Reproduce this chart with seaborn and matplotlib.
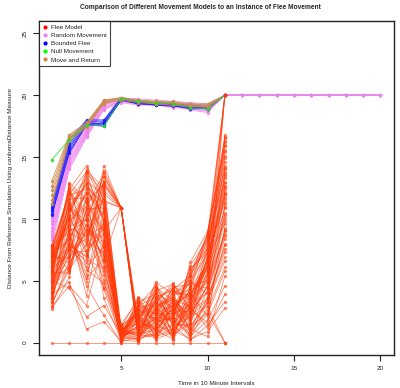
import matplotlib
matplotlib.use("Agg")
import matplotlib.pyplot as plt
from matplotlib.lines import Line2D
import numpy as np
import pandas as pd
import seaborn as sns

# ---------------------------------------------------------------------------
# Distances from the reference simulation, one row per simulation run
# ---------------------------------------------------------------------------
TIME_SHORT = [1, 2, 3, 4, 5, 6, 7, 8, 9, 10, 11]
TIME_LONG = [1, 2, 3, 4, 5, 6, 7, 8, 9, 10, 11, 12, 13, 14, 15, 16, 17, 18, 19, 20]

FLEE_MODEL = [
    [7.8, 9.5, 12.1, 10.4, 0.6, 1.2, 2.5, 1.8, 3.1, 5.2, 12.0],
    [6.5, 11.2, 8.3, 13.1, 10.9, 0.4, 1.8, 3.4, 2.2, 4.6, 9.8],
    [5.2, 7.4, 10.6, 6.2, 0.3, 2.8, 0.9, 1.5, 4.4, 7.9, 14.3],
    [4.1, 8.8, 5.5, 9.7, 1.1, 0.7, 3.6, 2.9, 1.3, 2.4, 0.0],
    [7.1, 12.4, 14.3, 11.5, 10.9, 0.9, 2.1, 0.6, 3.8, 6.1, 16.8],
    [3.3, 6.1, 9.2, 8.4, 0.2, 3.5, 1.4, 4.1, 0.8, 3.3, 6.6],
    [6.0, 10.3, 7.1, 12.6, 0.8, 1.9, 4.7, 2.3, 5.6, 8.7, 20.0],
    [2.7, 5.3, 11.8, 4.3, 0.4, 0.3, 0.8, 1.1, 2.7, 1.6, 11.2],
    [7.5, 8.1, 6.4, 14.3, 10.9, 1.5, 2.9, 3.7, 1.9, 5.8, 13.3],
    [5.6, 11.7, 13.2, 7.5, 1.4, 2.4, 0.5, 0.9, 6.5, 9.0, 15.4],
    [4.6, 9.1, 3.8, 10.8, 0.5, 1.0, 3.2, 4.8, 2.6, 4.1, 8.4],
    [6.9, 6.8, 8.9, 5.1, 0.1, 3.1, 1.6, 2.0, 0.4, 2.9, 0.0],
    [3.8, 10.9, 12.7, 9.1, 0.9, 0.6, 2.4, 3.0, 4.9, 7.2, 16.2],
    [7.9, 12.1, 10.1, 13.5, 10.9, 0.2, 4.1, 1.4, 3.3, 6.8, 12.0],
    [5.0, 4.4, 2.1, 3.0, 0.7, 2.1, 0.2, 2.6, 1.1, 0.5, 5.4],
    [6.3, 9.8, 11.4, 8.0, 1.2, 3.7, 2.7, 0.4, 3.6, 4.9, 10.5],
    [4.4, 7.9, 6.9, 11.9, 0.3, 1.4, 4.9, 3.9, 5.1, 8.1, 14.9],
    [7.3, 11.0, 9.8, 6.7, 10.9, 1.7, 1.1, 2.2, 0.6, 3.7, 7.3],
    [3.0, 6.6, 13.7, 12.2, 0.6, 0.8, 3.4, 4.4, 2.4, 6.4, 20.0],
    [5.9, 8.6, 4.6, 2.2, 0.0, 2.6, 1.9, 1.2, 4.0, 2.1, 9.3],
    [6.7, 10.5, 12.9, 10.1, 1.0, 0.5, 0.7, 3.2, 1.5, 5.5, 13.8],
    [4.9, 12.8, 7.8, 13.9, 10.9, 1.1, 2.6, 1.7, 5.9, 7.6, 15.9],
    [7.6, 5.8, 10.9, 7.1, 0.4, 3.3, 3.9, 0.7, 2.9, 1.2, 3.9],
    [3.5, 9.3, 8.6, 9.4, 0.8, 1.6, 1.3, 4.6, 3.7, 6.6, 11.6],
    [6.1, 7.0, 14.0, 11.1, 0.2, 0.1, 4.4, 2.7, 0.9, 4.3, 8.8],
    [5.4, 11.5, 5.9, 4.8, 1.3, 2.3, 2.0, 1.9, 6.2, 8.4, 16.5],
    [7.0, 8.4, 11.1, 12.9, 10.9, 0.7, 0.4, 3.6, 2.0, 3.0, 20.0],
    [4.3, 6.3, 9.5, 5.8, 0.5, 2.9, 3.0, 0.2, 4.6, 5.0, 10.1],
    [6.6, 10.1, 7.5, 8.8, 0.7, 1.3, 1.5, 3.3, 1.7, 7.0, 12.7],
    [3.9, 4.9, 1.1, 1.7, 0.1, 0.4, 0.6, 1.0, 0.3, 0.9, 2.8],
    [7.7, 11.9, 12.4, 10.0, 1.1, 3.0, 3.7, 4.2, 3.4, 6.3, 14.6],
    [5.1, 9.0, 9.9, 13.4, 10.9, 0.3, 2.2, 2.4, 5.3, 8.6, 13.0],
    [6.4, 7.7, 6.1, 7.8, 0.6, 1.8, 4.3, 1.3, 2.1, 3.5, 7.9],
    [4.7, 10.7, 13.5, 9.9, 0.3, 2.0, 1.0, 2.8, 4.2, 5.9, 11.8],
    [7.4, 12.2, 8.7, 11.7, 0.9, 0.8, 2.8, 3.5, 1.0, 2.6, 6.1],
    [5.7, 5.6, 10.3, 6.5, 1.5, 3.4, 0.3, 0.8, 3.0, 7.4, 15.1],
    [6.8, 9.7, 4.9, 12.3, 10.9, 1.0, 3.5, 4.5, 4.7, 4.4, 20.0],
    [3.6, 8.3, 11.6, 8.6, 0.4, 2.5, 2.3, 1.6, 2.8, 6.9, 9.6],
    [7.2, 10.0, 12.0, 3.6, 0.2, 0.6, 1.2, 2.5, 5.0, 3.9, 12.4],
    [0.0, 0.0, 0.0, 0.0, 0.0, 0.0, 0.0, 0.0, 0.0, 0.0, 0.0],
    [5.5, 11.4, 9.0, 10.6, 1.2, 1.5, 4.0, 3.1, 0.5, 1.8, 4.6],
    [4.0, 7.2, 7.4, 9.3, 0.8, 2.7, 2.6, 4.0, 3.9, 5.4, 10.9],
    [6.2, 10.6, 13.0, 12.0, 10.9, 0.5, 1.7, 0.5, 2.3, 7.8, 14.0],
    [7.9, 8.9, 8.1, 7.3, 0.5, 1.2, 3.3, 2.1, 3.5, 6.0, 12.9],
    [5.3, 6.0, 10.8, 10.9, 1.0, 2.2, 1.1, 3.8, 4.3, 8.9, 16.0],
    [6.5, 12.6, 11.3, 8.9, 0.6, 0.2, 2.9, 1.5, 1.4, 3.2, 8.0],
    [4.8, 8.0, 12.5, 11.3, 0.4, 1.1, 1.9, 2.6, 2.5, 5.7, 13.5],
    [6.0, 10.8, 9.4, 7.0, 0.9, 2.4, 3.1, 0.9, 3.2, 4.0, 9.1],
    [3.2, 5.9, 8.0, 12.8, 10.9, 0.8, 0.9, 2.9, 4.5, 6.2, 15.6],
    [7.6, 12.0, 13.8, 9.6, 0.3, 1.7, 4.5, 3.4, 1.8, 7.1, 11.4],
    [5.8, 7.6, 6.7, 6.0, 0.7, 3.2, 2.3, 4.3, 5.4, 8.2, 20.0],
    [4.2, 9.9, 11.0, 13.7, 10.9, 0.1, 1.3, 1.0, 2.5, 3.6, 7.6],
    [6.9, 11.3, 7.2, 4.5, 1.0, 2.0, 3.8, 1.8, 0.7, 2.3, 5.8],
    [2.9, 4.6, 3.0, 8.2, 0.2, 0.9, 0.5, 2.3, 3.1, 6.7, 12.2],
    [7.3, 9.2, 12.2, 10.7, 0.6, 2.6, 2.4, 3.9, 4.8, 8.5, 16.3],
    [5.6, 12.3, 10.4, 11.4, 10.9, 1.3, 3.6, 0.6, 1.6, 4.8, 10.3],
    [4.5, 6.9, 9.6, 7.7, 0.5, 3.6, 1.7, 2.0, 6.0, 7.3, 14.1],
    [6.3, 10.2, 13.9, 12.5, 1.3, 0.3, 4.2, 4.7, 2.8, 5.1, 8.6],
    [3.4, 8.5, 5.2, 6.8, 0.1, 1.9, 0.8, 1.4, 0.2, 1.4, 3.3],
    [7.8, 11.6, 11.7, 9.0, 10.9, 0.6, 2.0, 3.0, 3.9, 6.5, 13.6],
    [5.1, 7.5, 8.4, 13.0, 0.8, 2.7, 3.3, 2.4, 5.5, 8.8, 16.6],
    [6.6, 9.4, 10.0, 5.5, 0.4, 1.4, 1.0, 0.3, 2.4, 4.5, 9.0],
    [4.0, 11.1, 12.8, 11.0, 0.9, 0.2, 2.7, 4.3, 3.6, 7.7, 20.0],
    [7.1, 6.4, 9.1, 8.1, 0.3, 3.0, 4.6, 1.7, 1.2, 3.4, 6.9],
    [5.9, 12.9, 11.5, 12.7, 10.9, 0.9, 1.4, 2.8, 4.1, 5.6, 11.0],
    [3.7, 7.8, 7.0, 9.8, 1.1, 2.2, 3.0, 3.5, 2.9, 6.2, 12.6],
]

RANDOM_TAIL = [20.0, 20.0, 20.0, 20.0, 20.0, 20.0, 20.0, 20.0, 20.0, 20.0]
RANDOM_MOVEMENT = [
    [10.4, 15.8, 17.6, 19.6, 19.8, 19.7, 19.6, 19.5, 19.4, 19.3] + RANDOM_TAIL,
    [10.1, 15.5, 17.4, 19.5, 19.7, 19.6, 19.4, 19.4, 19.2, 19.1] + RANDOM_TAIL,
    [9.8, 15.3, 17.3, 19.4, 19.7, 19.5, 19.5, 19.3, 19.1, 18.9] + RANDOM_TAIL,
    [9.6, 15.1, 17.2, 19.3, 19.6, 19.5, 19.3, 19.2, 19.3, 19.2] + RANDOM_TAIL,
    [9.3, 14.9, 17.1, 19.3, 19.6, 19.4, 19.4, 19.4, 19.0, 18.7] + RANDOM_TAIL,
    [9.0, 14.7, 17.0, 19.2, 19.6, 19.4, 19.2, 19.1, 18.9, 19.0] + RANDOM_TAIL,
    [8.8, 14.6, 16.9, 19.1, 19.5, 19.3, 19.3, 19.3, 19.2, 18.8] + RANDOM_TAIL,
    [8.5, 14.4, 16.8, 19.0, 19.5, 19.5, 19.4, 19.2, 18.8, 18.6] + RANDOM_TAIL,
    [8.3, 14.2, 16.7, 18.9, 19.5, 19.3, 19.3, 19.1, 19.0, 18.9] + RANDOM_TAIL,
    [7.9, 14.0, 16.6, 18.8, 19.4, 19.2, 19.2, 19.0, 18.9, 18.7] + RANDOM_TAIL,
]

BOUNDED_FLEE = [
    [11.2, 16.4, 18.0, 18.0, 19.8, 19.5, 19.4, 19.3, 19.2, 19.1, 20.0],
    [11.0, 16.1, 17.9, 17.9, 19.7, 19.4, 19.4, 19.2, 19.1, 19.0, 20.0],
    [10.8, 15.9, 17.8, 17.7, 19.7, 19.4, 19.3, 19.3, 19.0, 19.0, 20.0],
    [10.6, 15.7, 17.7, 17.6, 19.6, 19.3, 19.3, 19.2, 19.1, 18.9, 20.0],
    [10.4, 15.5, 17.6, 17.8, 19.6, 19.3, 19.2, 19.1, 19.0, 19.0, 20.0],
    [10.3, 15.3, 17.6, 17.5, 19.6, 19.4, 19.2, 19.2, 18.9, 18.9, 20.0],
]

NULL_MOVEMENT = [
    [14.8, 16.4, 17.6, 17.5, 19.7, 19.5, 19.4, 19.3, 19.0, 18.9, 20.0],
]

MOVE_AND_RETURN = [
    [13.1, 16.8, 17.8, 19.6, 19.8, 19.6, 19.5, 19.5, 19.3, 19.3, 20.0],
    [12.7, 16.7, 17.7, 19.5, 19.8, 19.6, 19.5, 19.4, 19.3, 19.2, 20.0],
    [12.3, 16.6, 17.6, 19.5, 19.7, 19.5, 19.4, 19.4, 19.2, 19.2, 20.0],
    [11.9, 16.5, 17.6, 19.4, 19.7, 19.5, 19.4, 19.3, 19.2, 19.1, 20.0],
    [11.5, 16.4, 17.5, 19.4, 19.7, 19.5, 19.3, 19.3, 19.1, 19.1, 20.0],
    [11.2, 16.3, 17.4, 19.3, 19.6, 19.4, 19.3, 19.2, 19.1, 19.0, 20.0],
]

LEGEND_LABELS = ["Flee Model", "Random Movement", "Bounded Flee",
                 "Null Movement", "Move and Return"]
LEGEND_COLORS = ["#ff0000", "#ee82ee", "#0000ff", "#00ff00", "#cd853f"]

X_TICKS = [5, 10, 15, 20]
Y_TICKS = [0, 5, 10, 15, 20, 25]


def runs_frame(runs, times):
    rows = []
    for run_id, values in enumerate(runs):
        for t, v in zip(times, values):
            rows.append({"time": t, "distance": v, "run": run_id})
    return pd.DataFrame(rows)


sns.set_style("white")
plt.rcParams["font.family"] = ["Liberation Sans", "DejaVu Sans"]

fig = plt.figure(figsize=(4.0, 3.88), dpi=100)
ax = fig.add_axes([0.097, 0.085, 0.887, 0.861])

# drawing order: background bands first, flee model runs on top
layers = [
    (RANDOM_MOVEMENT, TIME_LONG, "#ee82ee", 0.9, 1),
    (BOUNDED_FLEE, TIME_SHORT, "#1a1aff", 0.9, 2),
    (MOVE_AND_RETURN, TIME_SHORT, "#cd8c50", 0.9, 3),
    (NULL_MOVEMENT, TIME_SHORT, "#22e022", 0.9, 4),
    (FLEE_MODEL, TIME_SHORT, "#ff3a0a", 0.6, 5),
]
for runs, times, color, alpha, z in layers:
    df = runs_frame(runs, times)
    sns.lineplot(data=df, x="time", y="distance", units="run", estimator=None,
                 sort=False, color=color, alpha=alpha, linewidth=0.6,
                 marker="o", markersize=2.4, markeredgewidth=0,
                 legend=False, ax=ax, zorder=z)

ax.set_xlim(0.24, 20.76)
ax.set_ylim(-1.0, 26.0)
ax.set_xticks(X_TICKS)
ax.set_yticks(Y_TICKS)
ax.tick_params(axis="both", which="both", direction="out", length=4,
               width=0.8, labelsize=4.6, colors="#222222", pad=4,
               bottom=True, left=True)
for lab in ax.get_yticklabels():
    lab.set_rotation(90)
    lab.set_va("center")
for side in ["left", "right", "top", "bottom"]:
    ax.spines[side].set_color("#222222")
    ax.spines[side].set_linewidth(1.0)

ax.set_xlabel("Time in 10 Minute Intervals", fontsize=4.6, labelpad=7)
ax.set_ylabel("Distance From Reference Simulation Using canberraDistance Measure",
              fontsize=4.6, labelpad=7)
fig.suptitle("Comparison of Different Movement Models to an Instance of Flee Movement",
             fontsize=4.8, fontweight="bold", y=0.99)

handles = [Line2D([], [], linestyle="none", marker="o", markersize=3,
                  markeredgewidth=0, color=c) for c in LEGEND_COLORS]
leg = ax.legend(handles, LEGEND_LABELS, loc="upper left",
                bbox_to_anchor=(0, 1), borderaxespad=0, fontsize=4.6,
                frameon=True, fancybox=False, edgecolor="#111111",
                handlelength=0.8, handletextpad=0.5, labelspacing=0.42,
                borderpad=0.55)
leg.get_frame().set_linewidth(0.8)
leg.set_zorder(10)

fig.savefig("out.png", dpi=100)
